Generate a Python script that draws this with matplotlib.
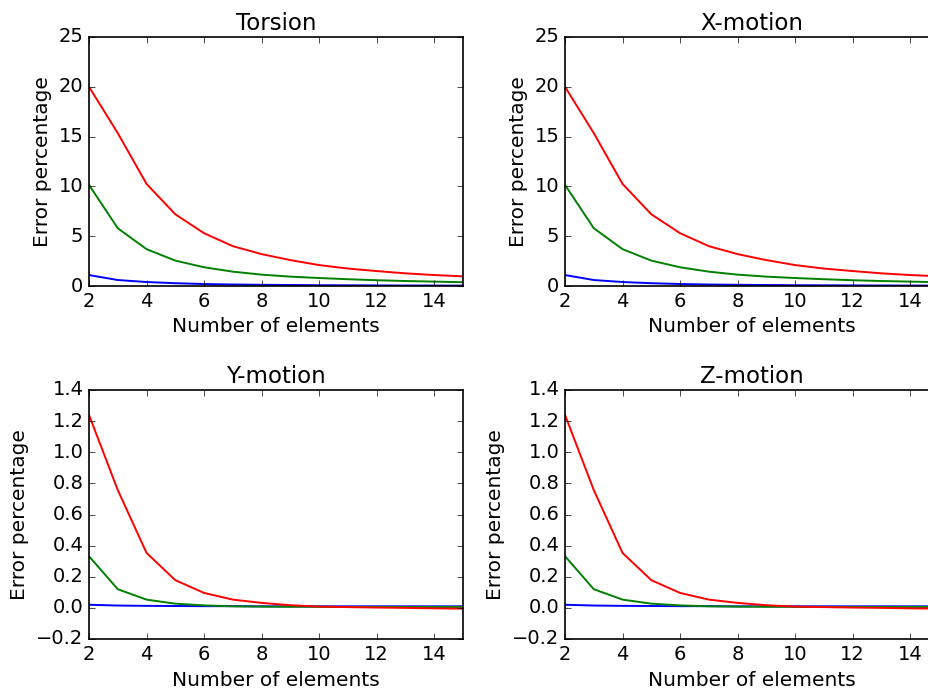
import matplotlib
matplotlib.use("Agg")
import matplotlib.pyplot as plt

plt.style.use('classic')
plt.rcParams['axes.linewidth'] = 1.2

n_elements = list(range(2, 16))

torsion_red = [20.0, 15.35, 10.25, 7.2, 5.3, 4.0, 3.2, 2.6, 2.1, 1.75, 1.5, 1.27, 1.1, 0.97]
torsion_green = [10.15, 5.8, 3.7, 2.55, 1.88, 1.44, 1.14, 0.94, 0.8, 0.68, 0.58, 0.5, 0.44, 0.38]
torsion_blue = [1.1, 0.6, 0.4, 0.28, 0.2, 0.15, 0.12, 0.1, 0.08, 0.07, 0.06, 0.05, 0.045, 0.04]

xmotion_red = torsion_red
xmotion_green = torsion_green
xmotion_blue = torsion_blue

ymotion_red = [1.24, 0.757, 0.353, 0.178, 0.096, 0.053, 0.032, 0.017, 0.008, 0.005, 0.002, 0.0, -0.003, -0.005]
ymotion_green = [0.332, 0.12, 0.053, 0.027, 0.016, 0.01, 0.008, 0.007, 0.007, 0.006, 0.006, 0.006, 0.006, 0.006]
ymotion_blue = [0.02, 0.015, 0.013, 0.012, 0.011, 0.011, 0.01, 0.01, 0.01, 0.01, 0.01, 0.01, 0.01, 0.01]

zmotion_red = ymotion_red
zmotion_green = ymotion_green
zmotion_blue = ymotion_blue

titles = ["Torsion", "X-motion", "Y-motion", "Z-motion"]
series = [
    (torsion_blue, torsion_green, torsion_red),
    (xmotion_blue, xmotion_green, xmotion_red),
    (ymotion_blue, ymotion_green, ymotion_red),
    (zmotion_blue, zmotion_green, zmotion_red),
]
ylims = [(0, 25), (0, 25), (-0.2, 1.4), (-0.2, 1.4)]

W, H = 929, 695
fig = plt.figure(figsize=(W / 100, H / 100), dpi=100, facecolor='white')

positions = [
    (89, 37), (565, 37), (89, 390), (565, 390)
]
aw, ah = 374, 249

for i, (px, py) in enumerate(positions):
    ax = fig.add_axes([px / W, (H - py - ah) / H, aw / W, ah / H])
    b, g, r = series[i]
    ax.plot(n_elements, b, color='b', lw=1.4)
    ax.plot(n_elements, g, color='g', lw=1.4)
    ax.plot(n_elements, r, color='r', lw=1.4)
    ax.set_xlim(2, 15)
    ax.set_ylim(*ylims[i])
    ax.set_title(titles[i], fontsize=16.5)
    ax.set_xlabel("Number of elements", fontsize=14.5)
    ax.set_ylabel("Error percentage", fontsize=14.5)
    ax.tick_params(labelsize=14)
    ax.set_facecolor('white')

fig.savefig("out.png", dpi=100, facecolor='white')
